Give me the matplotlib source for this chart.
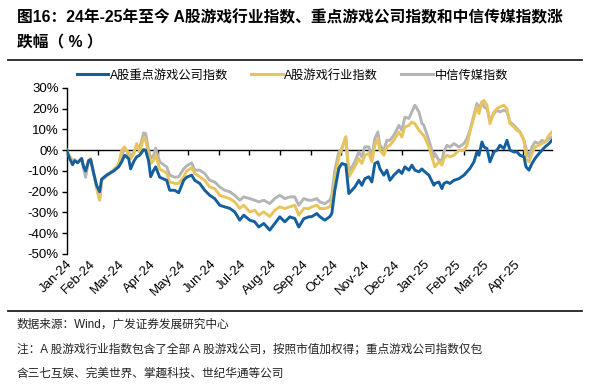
import matplotlib
matplotlib.use("Agg")
import matplotlib.pyplot as plt
import matplotlib.dates as mdates
from matplotlib.lines import Line2D
from matplotlib.ticker import FuncFormatter
import pandas as pd

plt.rcParams["font.family"] = ["Liberation Sans", "Noto Sans CJK SC", "DejaVu Sans"]

# values (% change since start of 2024)
dates = [
    "2024-01-01", "2024-01-04", "2024-01-07", "2024-01-09", "2024-01-12", "2024-01-16",
    "2024-01-18", "2024-01-20", "2024-01-23", "2024-01-25", "2024-01-28", "2024-01-31",
    "2024-02-03", "2024-02-05", "2024-02-10", "2024-02-17", "2024-02-22", "2024-02-25",
    "2024-02-28", "2024-03-03", "2024-03-05", "2024-03-08", "2024-03-11", "2024-03-14",
    "2024-03-18", "2024-03-20", "2024-03-23", "2024-03-25", "2024-03-28", "2024-03-30",
    "2024-04-03", "2024-04-10", "2024-04-13", "2024-04-18", "2024-04-22", "2024-04-27",
    "2024-04-30", "2024-05-05", "2024-05-08", "2024-05-13", "2024-05-18", "2024-05-23",
    "2024-05-28", "2024-06-02", "2024-06-07", "2024-06-12", "2024-06-17", "2024-06-22",
    "2024-06-26", "2024-07-02", "2024-07-07", "2024-07-11", "2024-07-16", "2024-07-22",
    "2024-07-27", "2024-08-01", "2024-08-06", "2024-08-11", "2024-08-16", "2024-08-20",
    "2024-08-25", "2024-08-30", "2024-09-02", "2024-09-07", "2024-09-10", "2024-09-15",
    "2024-09-20", "2024-09-22", "2024-09-25", "2024-09-29", "2024-10-02", "2024-10-06",
    "2024-10-09", "2024-10-12", "2024-10-15", "2024-10-19", "2024-10-22", "2024-10-25",
    "2024-10-29", "2024-11-01", "2024-11-04", "2024-11-07", "2024-11-09", "2024-11-13",
    "2024-11-16", "2024-11-19", "2024-11-23", "2024-11-28", "2024-12-01", "2024-12-04",
    "2024-12-08", "2024-12-11", "2024-12-14", "2024-12-18", "2024-12-21", "2024-12-23",
    "2024-12-28", "2025-01-02", "2025-01-03", "2025-01-07", "2025-01-10", "2025-01-12",
    "2025-01-15", "2025-01-18", "2025-01-22", "2025-01-27", "2025-02-01", "2025-02-04",
    "2025-02-07", "2025-02-11", "2025-02-14", "2025-02-16", "2025-02-19", "2025-02-21",
    "2025-02-24", "2025-02-27", "2025-03-03", "2025-03-06", "2025-03-09", "2025-03-13",
    "2025-03-16", "2025-03-19", "2025-03-23", "2025-03-26", "2025-03-29", "2025-04-02",
    "2025-04-04", "2025-04-07", "2025-04-10", "2025-04-13", "2025-04-17", "2025-04-20",
    "2025-04-23", "2025-04-27", "2025-04-30",
]

key_games = [
    0, -4, -7, -5, -6, -4, -8, -10, -5, -4.5, -11, -17,
    -20, -14, -12, -10, -8, -5.6, -2.4, -4, -9, -5.5, -3.2, -2.4,
    0.3, 0, -5.3, -12.8, -9.6, -8, -13, -14.5, -19.3, -19.3, -20.5, -14.5,
    -13, -12, -14.5, -16, -19.3, -21.7, -23.3, -26.5, -27.3, -28, -29.7, -33.7,
    -31.3, -33.7, -34.5, -37, -35.3, -38.5, -35.3, -32.1, -34.5, -32.1, -32.9, -37,
    -33, -32.1, -32, -30.5, -32, -33.7, -32, -30.5, -19.3, -8.8, -6.4, -7,
    -20.9, -19.3, -17.7, -14.5, -16.9, -13.7, -12.8, -15.3, -6.4, -5.6, -8.8, -12,
    -9.6, -14.5, -12, -9.6, -11.2, -8, -9.6, -7.2, -9.6, -10.4, -9, -10,
    -12, -16.9, -16, -15.3, -18.5, -16, -15.3, -16, -14.5, -13.7, -12, -10.4,
    -8.8, -5.6, -0.8, -2.4, 4, 1.6, 0.8, -5.6, -0.8, 0, 2.4, 0.8,
    4.8, 0, -0.8, -0.8, -2.4, -3.2, -8, -9.6, -6.4, -4, -1.6, 0,
    1.6, 3.2, 4.8,
]

game_industry = [
    0, -3, -5, -5, -6, -4, -8, -10, -5, -4, -11, -18,
    -24, -14.5, -12.5, -9.5, -7, 0, 1.6, -2, -4, -2, 3.2, -1,
    6, 5, -2.4, -6.4, -4.8, -2, -9, -11, -15.3, -16, -16, -12.8,
    -10, -8.4, -11.2, -12.8, -14.5, -17.7, -18.5, -21.7, -22.5, -23.3, -24.9, -28,
    -26.5, -29.7, -28.9, -31.3, -29.7, -32, -28.9, -27.3, -28.1, -27.3, -26.5, -31.3,
    -28.1, -28.1, -27.3, -26.5, -28.1, -28.1, -27.3, -24.9, -14.5, -3.2, 0.8, 6.4,
    -12.8, -10.4, -8, -4, -6.4, -2.4, -1.6, -5.6, 2.4, 5.6, 0, -2.4,
    1.6, 2.4, 4.8, 8.8, 6.4, 11.2, 12, 13.6, 12.8, 9.6, 8, 7,
    1.6, -6.4, -8, -5.6, -7.2, -4, -2.4, -3.2, -2.4, 0, 0, 2.4,
    8.8, 16, 20.9, 17.7, 23.3, 24, 21.7, 12.8, 18.5, 20, 20.9, 21.7,
    20, 12.8, 11.2, 9.6, 8.8, 4.8, -4, -5.6, -1.6, 1.6, 2.4, 3.2,
    4, 7.2, 8.8,
]

citic_media = [
    0, -3, -5.5, -4.5, -6, -4, -9, -13, -5, -4.5, -11, -18,
    -24, -14, -12, -9.5, -7, -2, 0.5, -1, -3, -1, 2.4, 1,
    8.4, 8, 0, -4, -2.4, 1, -5.6, -8, -12, -13, -12.8, -9,
    -7.5, -6.1, -9.6, -9.6, -11.2, -14.5, -15.3, -17.7, -19.3, -20, -21.7, -24.1,
    -22.5, -23.3, -24.1, -24.9, -24.1, -25.7, -23.3, -21.7, -23.3, -22.5, -22.5, -26.5,
    -23.3, -24.1, -24.1, -23.3, -24.9, -25.7, -24.1, -21.7, -9.6, -0.8, 0.8, 6.4,
    -10.4, -8, -5.6, -0.8, -3.2, 1.6, 1.6, -3.2, 5.6, 8.8, 2.4, 0,
    4.8, 4.8, 7.2, 12, 9.6, 16, 15.3, 18.5, 21.7, 18.5, 13, 12,
    4.8, -3.2, -1.6, -4.8, -4.8, -0.8, 2.4, 1.6, 3.2, 1.6, 3.2, 5.6,
    9.6, 16.9, 22.5, 20, 23.3, 20.9, 20, 14.5, 17.7, 19.3, 18.5, 19.3,
    18.5, 13.6, 12, 10.4, 8.8, 4.8, 0.8, -3.2, 1.6, 4, 3.2, 4.8,
    4, 5.6, 6.4,
]

series_names = ["A股重点游戏公司指数", "A股游戏行业指数", "中信传媒指数"]
series_colors = ["#14609f", "#e8c55c", "#b5b5b5"]
y_ticks = [-50, -40, -30, -20, -10, 0, 10, 20, 30]

df = pd.DataFrame({
    "date": pd.to_datetime(dates),
    series_names[0]: key_games,
    series_names[1]: game_industry,
    series_names[2]: citic_media,
})

fig = plt.figure(figsize=(6, 3.88), dpi=100)
ax = fig.add_axes([0.111, 0.3454, 0.809, 0.4278])

# draw grey first, blue on top
for name, color in reversed(list(zip(series_names, series_colors))):
    ax.plot(df["date"], df[name], color=color, linewidth=2.1, zorder=3,
            solid_joinstyle="round")

ax.set_ylim(-50, 30)
ax.set_yticks(y_ticks)
ax.yaxis.set_major_formatter(FuncFormatter(lambda v, _: f"{v:.0f}%"))
ax.set_xlim(pd.Timestamp("2024-01-01"), pd.Timestamp("2025-04-30"))

for side in ["top", "right"]:
    ax.spines[side].set_visible(False)
ax.spines["left"].set_linewidth(1.0)
ax.spines["bottom"].set_position(("data", 0))
ax.spines["bottom"].set_linewidth(1.0)
ax.spines["bottom"].set_zorder(2)

ax.xaxis.set_major_locator(mdates.MonthLocator())
ax.tick_params(axis="x", direction="out", length=3.5, width=1.0, labelbottom=False)
ax.tick_params(axis="y", direction="out", length=3.5, width=1.0, labelsize=9.5, pad=2)

# month labels sit under the plot, rotated
lab = ax.secondary_xaxis("bottom")
lab.spines["bottom"].set_visible(False)
lab.xaxis.set_major_locator(mdates.MonthLocator())
lab.xaxis.set_major_formatter(mdates.DateFormatter("%b-%y"))
lab.tick_params(axis="x", length=0, labelsize=9.5, pad=3)
for t in lab.get_xticklabels():
    t.set_rotation(45)
    t.set_ha("right")
    t.set_rotation_mode("anchor")

handles = [Line2D([], [], color=c, linewidth=2.2) for c in series_colors]
fig.legend(handles, series_names, loc="center", bbox_to_anchor=(0.487, 0.805),
           ncol=3, frameon=False, fontsize=8.8, handlelength=2.6,
           handletextpad=0.1, columnspacing=1.9)

fig.text(0.028, 0.956, "图16：24年-25年至今 A股游戏行业指数、重点游戏公司指数和中信传媒指数涨",
         fontsize=11.3, fontweight="bold", va="center", ha="left")
fig.text(0.028, 0.889, "跌幅（ % ）", fontsize=11.3, fontweight="bold", va="center", ha="left")

fig.add_artist(Line2D([0.013, 0.97], [0.845, 0.845], color="#222222", linewidth=1.3))
fig.add_artist(Line2D([0.013, 0.97], [0.199, 0.199], color="#222222", linewidth=1.3))

foot = dict(fontsize=8.4, va="center", ha="left", color="#222222")
fig.text(0.028, 0.162, "数据来源：Wind，广发证券发展研究中心", **foot)
fig.text(0.028, 0.099, "注：A 股游戏行业指数包含了全部 A 股游戏公司，按照市值加权得；重点游戏公司指数仅包", **foot)
fig.text(0.028, 0.036, "含三七互娱、完美世界、掌趣科技、世纪华通等公司", **foot)

fig.savefig("out.png", dpi=100)
plt.close(fig)
